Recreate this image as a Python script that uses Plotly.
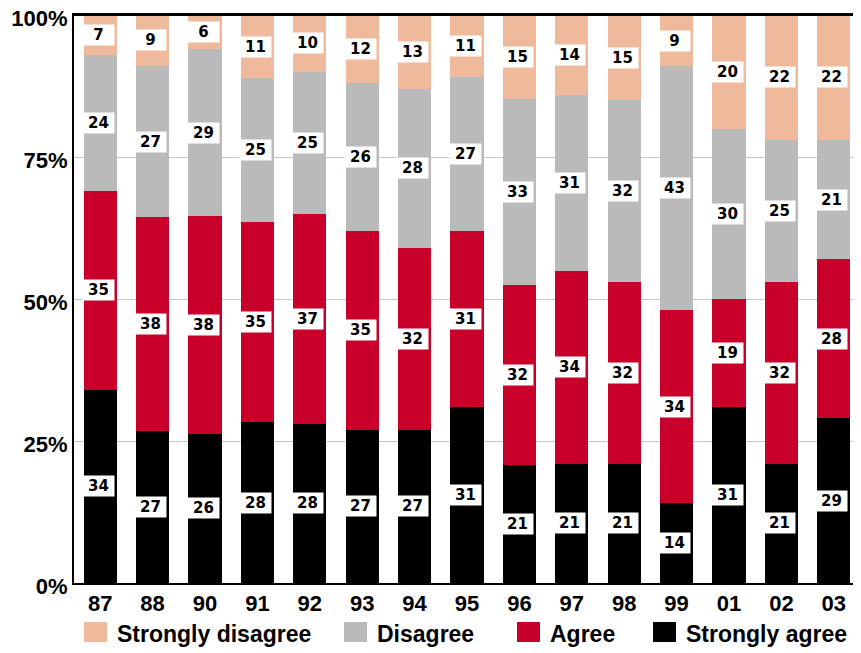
import plotly.graph_objects as go

years = ["87", "88", "90", "91", "92", "93", "94", "95", "96", "97", "98", "99", "01", "02", "03"]
strongly_agree = [34, 27, 26, 28, 28, 27, 27, 31, 21, 21, 21, 14, 31, 21, 29]
agree = [35, 38, 38, 35, 37, 35, 32, 31, 32, 34, 32, 34, 19, 32, 28]
disagree = [24, 27, 29, 25, 25, 26, 28, 27, 33, 31, 32, 43, 30, 25, 21]
strongly_disagree = [7, 9, 6, 11, 10, 12, 13, 11, 15, 14, 15, 9, 20, 22, 22]

series = [
    ("Strongly agree", strongly_agree, "#000000"),
    ("Agree", agree, "#C8002A"),
    ("Disagree", disagree, "#BABABA"),
    ("Strongly disagree", strongly_disagree, "#EFBA9C"),
]

FONT = "Arial, 'Liberation Sans', sans-serif"
OFF = 8  # page body margin
W, H = 861 - OFF, 653 - OFF
ML, MR, MT, MB = 74 - OFF, 1, 15 - OFF, 70
PW, PH = W - ML - MR, H - MT - MB


def px2paper(px, py):
    # px, py are page pixel coordinates
    return (px - OFF - ML) / PW, (H - MB - (py - OFF)) / PH


fig = go.Figure()
for name, vals, color in series:
    fig.add_trace(go.Bar(
        x=years, y=vals, name=name, marker=dict(color=color, line=dict(width=0)),
        hoverinfo="skip", showlegend=False,
    ))

# value labels at the normalised midpoint of each segment (x as category index)
totals = [sum(s[1][i] for s in series) for i in range(len(years))]
annotations = []
for i, yr in enumerate(years):
    base = 0
    for name, vals, color in series:
        v = vals[i]
        mid = (base + v / 2) / totals[i] * 100
        base += v
        annotations.append(dict(
            x=i, y=mid, xref="x", yref="y", text=f"<b>{v}</b>", showarrow=False,
            font=dict(family="'DejaVu Sans', sans-serif", size=15, color="#000000"),
            bgcolor="#FFFFFF", borderpad=1, width=29, height=18, xshift=-2,
        ))

# legend drawn as squares + labels below the plot
legend_items = [
    ("Strongly disagree", "#EFBA9C", 84),
    ("Disagree", "#BABABA", 344),
    ("Agree", "#C8002A", 517),
    ("Strongly agree", "#000000", 653),
]
shapes = []
for label, color, sx in legend_items:
    x0, y0 = px2paper(sx, 642)
    x1, y1 = px2paper(sx + 23, 622)
    shapes.append(dict(type="rect", xref="paper", yref="paper", x0=x0, x1=x1, y0=y0, y1=y1,
                       fillcolor=color, line=dict(width=0)))
    tx, ty = px2paper(sx + 31, 634)
    annotations.append(dict(x=tx, y=ty, xref="paper", yref="paper", xanchor="left", yanchor="middle",
                            text=label, showarrow=False,
                            font=dict(family=FONT, size=23, color="#000000", weight="bold")))

# frame line along the top of the plot area
x0, y0 = px2paper(74, 15)
x1, _ = px2paper(861, 15)
shapes.append(dict(type="line", xref="paper", yref="paper", x0=x0, x1=x1, y0=y0, y1=y0,
                   line=dict(color="#000000", width=2), layer="above"))

fig.update_layout(
    barmode="stack", barnorm="percent", bargap=0.37,
    width=W, height=H,
    margin=dict(l=ML, r=MR, t=MT, b=MB),
    paper_bgcolor="#FFFFFF", plot_bgcolor="#FFFFFF",
    font=dict(family=FONT, size=20, color="#000000"),
    annotations=annotations, shapes=shapes,
    showlegend=False,
)
fig.update_xaxes(
    type="category", categoryorder="array", categoryarray=years,
    range=[-0.5, len(years) - 0.5], automargin=False,
    showline=True, linecolor="#000000", linewidth=2, mirror=True,
    tickfont=dict(family=FONT, size=22, color="#000000", weight="bold"),
    ticks="", ticklabeloverflow="allow", ticklabelstandoff=0,
)
fig.update_yaxes(
    range=[0, 100], tickvals=[0, 25, 50, 75, 100], automargin=False,
    ticktext=["0%", "25%", "50%", "75%", "100%"],
    showgrid=True, gridcolor="#C8C8C8", gridwidth=1,
    showline=True, linecolor="#000000", linewidth=2, mirror=True,
    tickfont=dict(family=FONT, size=22, color="#000000", weight="bold"),
    ticks="", zeroline=False, ticklabeloverflow="allow", ticklabelshift=3,
)

fig.write_html("out.html")
